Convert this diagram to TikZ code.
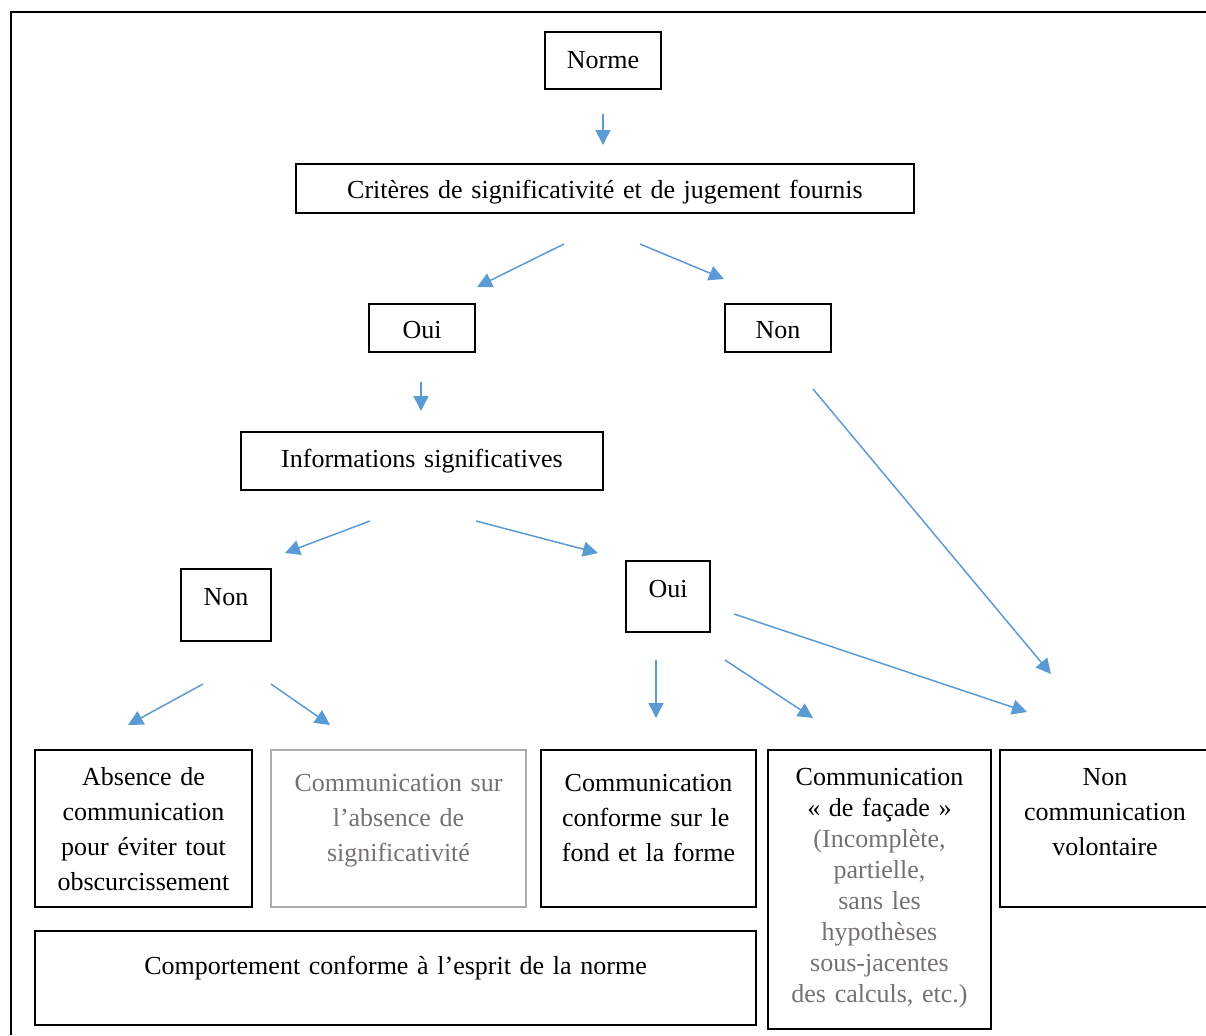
\documentclass[tikz,border=0pt]{standalone}
\usepackage{fontspec}
\setmainfont{Liberation Serif}
\usetikzlibrary{arrows.meta}
\definecolor{ink}{HTML}{000000}
\definecolor{flow}{HTML}{5B9BD5}
\definecolor{muted}{HTML}{767171}
\definecolor{paleline}{HTML}{AFABAB}

\begin{document}
\begin{tikzpicture}[x=0.5pt,y=-0.5pt,
  box/.style={draw=ink,line width=1pt,inner sep=0pt,align=center,text=ink,anchor=north,font=\fontsize{13}{17.5}\selectfont},
  arr/.style={-{Triangle[length=7.5pt,width=7.5pt]},line width=0.75pt,draw=flow},
]
  \clip (0,0) rectangle (1206,1035);
  \draw[line width=1.4pt,draw=ink] (1206,12) -- (11,12) -- (11,1035);
  % top of the tree
  \node[box,text width=58pt,text height=18pt,text depth=10.5pt] (norme) at (603,31) {Norme};
  \node[box,text width=309pt,text height=17pt,text depth=7.5pt] (crit) at (605,163) {Critères de significativité et de jugement fournis};
  \node[box,text width=53pt,text height=17pt,text depth=7pt] (oui) at (422,303) {Oui};
  \node[box,text width=53pt,text height=17pt,text depth=7pt] (non) at (778,303) {Non};
  \node[box,text width=181pt,text height=17.5pt,text depth=11.5pt] (info) at (422,431) {Informations significatives};
  \node[box,text width=45pt,text height=18pt,text depth=18pt] (nonsig) at (226,568) {Non};
  \node[box,text width=42pt,text height=18pt,text depth=17.5pt] (ouisig) at (668,560) {Oui};
  % outcomes
  \node[box,text width=108.5pt,text height=17.5pt,text depth=61pt] (absence) at (143.5,749)
    {Absence de\\communication\\pour éviter tout\\obscurcissement};
  \node[box,draw=paleline,text=muted,text width=127.5pt,text height=20.5pt,text depth=58pt] (commsur) at (398.5,749)
    {Communication sur\\l’absence de\\significativité};
  \node[box,text width=107.5pt,text height=20.5pt,text depth=58pt] (conforme) at (648.5,749)
    {Communication\\\makebox[86.5pt][s]{conforme sur le}\\fond et la forme};
  \node[box,text width=111.5pt,text height=17.5pt,text depth=122pt,font=\fontsize{13}{15.5}\selectfont] (facade) at (879.5,749)
    {Communication\\« de façade »\\\textcolor{muted}{(Incomplète,}\\\textcolor{muted}{partielle,}\\\textcolor{muted}{sans les}\\\textcolor{muted}{hypothèses}\\\textcolor{muted}{sous-jacentes}\\\textcolor{muted}{des calculs, etc.)}};
  \node[box,text width=105pt,text height=17.5pt,text depth=61pt] (noncomm) at (1105,749)
    {Non\\communication\\volontaire};
  \node[box,text width=360.5pt,text height=21.5pt,text depth=25.5pt] (comport) at (395.5,930)
    {Comportement conforme à l’esprit de la norme};
  % arrows
  \draw[arr] ([shift={(0,24)}]norme.south) -- ([shift={(-2,-18)}]crit.north);
  \draw[arr] ([shift={(-41,30)}]crit.south) -- ([shift={(55,-16)}]oui.north);
  \draw[arr] ([shift={(35,30)}]crit.south) -- ([shift={(-54,-24)}]non.north);
  \draw[arr] ([shift={(-1,29)}]oui.south) -- ([shift={(-1,-20)}]info.north);
  \draw[arr] ([shift={(-52,30)}]info.south) -- ([shift={(59,-15)}]nonsig.north);
  \draw[arr] ([shift={(54,30)}]info.south) -- ([shift={(-70,-7)}]ouisig.north);
  \draw[arr] ([shift={(35,36)}]non.south) -- ([shift={(-54,-75)}]noncomm.north);
  \draw[arr] ([shift={(-23,42)}]nonsig.south) -- ([shift={(-15.5,-24)}]absence.north);
  \draw[arr] ([shift={(45,42)}]nonsig.south) -- ([shift={(-68.5,-24)}]commsur.north);
  \draw[arr] ([shift={(-12,27)}]ouisig.south) -- ([shift={(7.5,-31)}]conforme.north);
  \draw[arr] ([shift={(57,27)}]ouisig.south) -- ([shift={(-66.5,-31)}]facade.north);
  \draw[arr] ([shift={(23,17.5)}]ouisig.east) -- ([shift={(-78,-37)}]noncomm.north);
\end{tikzpicture}
\end{document}
